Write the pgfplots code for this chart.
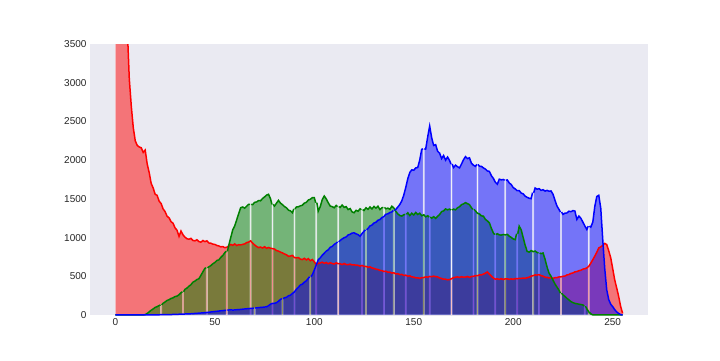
\documentclass[border=0pt]{standalone}
\usepackage{pgfplots}
\pgfplotsset{compat=1.18}
\usepackage{pgfplotstable}
\usepackage{fontspec}
\setmainfont{Liberation Sans}
\definecolor{bgc}{RGB}{234,234,242}
\definecolor{txt}{RGB}{38,38,38}
\definecolor{mplgreen}{RGB}{0,128,0}
\definecolor{mplred}{RGB}{255,0,0}
\definecolor{mplblue}{RGB}{0,0,255}

\pgfplotstableread[row sep=\\]{x y\\
0 9000\\1 7600\\2 6500\\3 5600\\4 4800\\5 4200\\6 3700\\7 3050\\8 2700\\9 2420\\
10 2250\\11 2190\\12 2170\\13 2160\\14 2100\\15 2130\\16 1950\\17 1840\\18 1700\\19 1640\\
20 1560\\21 1545\\22 1470\\23 1440\\24 1370\\25 1335\\26 1275\\27 1255\\28 1205\\29 1185\\
30 1125\\31 1095\\32 1015\\33 1085\\34 1035\\35 1005\\36 985\\37 978\\38 990\\39 962\\
40 958\\41 972\\42 948\\43 940\\44 962\\45 948\\46 958\\47 930\\48 928\\49 915\\
50 912\\51 898\\52 892\\53 880\\54 884\\55 870\\56 875\\57 892\\58 912\\59 900\\
60 918\\61 898\\62 908\\63 905\\64 912\\65 918\\66 935\\67 942\\68 958\\69 928\\
70 905\\71 885\\72 870\\73 878\\74 865\\75 882\\76 862\\77 872\\78 862\\79 858\\
80 852\\81 832\\82 825\\83 812\\84 802\\85 788\\86 778\\87 758\\88 762\\89 770\\
90 742\\91 738\\92 742\\93 722\\94 716\\95 732\\96 712\\97 728\\98 702\\99 716\\
100 688\\101 650\\102 668\\103 672\\104 682\\105 668\\106 678\\107 662\\108 675\\109 665\\
110 658\\111 674\\112 662\\113 662\\114 652\\115 665\\116 652\\117 650\\118 658\\119 646\\
120 648\\121 644\\122 642\\123 632\\124 640\\125 628\\126 628\\127 618\\128 621\\129 608\\
130 602\\131 592\\132 588\\133 576\\134 573\\135 562\\136 566\\137 552\\138 553\\139 542\\
140 545\\141 530\\142 534\\143 522\\144 524\\145 512\\146 514\\147 502\\148 506\\149 492\\
150 490\\151 480\\152 480\\153 474\\154 482\\155 484\\156 492\\157 490\\158 498\\159 495\\
160 502\\161 496\\162 492\\163 478\\164 472\\165 462\\166 462\\167 455\\168 456\\169 470\\
170 482\\171 488\\172 492\\173 486\\174 494\\175 488\\176 490\\177 497\\178 487\\179 497\\
180 500\\181 507\\182 508\\183 517\\184 518\\185 528\\186 540\\187 556\\188 528\\189 502\\
190 478\\191 463\\192 467\\193 460\\194 470\\195 458\\196 467\\197 468\\198 460\\199 467\\
200 461\\201 470\\202 468\\203 474\\204 473\\205 477\\206 474\\207 482\\208 488\\209 502\\
210 508\\211 517\\212 516\\213 522\\214 508\\215 502\\216 488\\217 487\\218 478\\219 480\\
220 474\\221 482\\222 483\\223 492\\224 493\\225 500\\226 503\\227 517\\228 523\\229 537\\
230 543\\231 557\\232 561\\233 572\\234 578\\235 592\\236 598\\237 608\\238 630\\239 670\\
240 714\\241 760\\242 810\\243 866\\244 880\\245 900\\246 925\\247 910\\248 830\\249 740\\
250 600\\251 455\\252 350\\253 240\\254 110\\255 20\\
}\tblR

\pgfplotstableread[row sep=\\]{x y\\
0 1\\1 1\\2 1\\3 1\\4 1\\5 1\\6 1\\7 1\\8 1\\9 1\\10 1\\11 1\\12 1\\13 1\\14 1\\
15 5\\16 20\\17 40\\18 62\\19 78\\20 98\\21 108\\22 122\\
22.7 130\\22.7 0\\23.3 0\\23.3 130\\
24 152\\25 168\\26 188\\27 198\\28 214\\29 222\\30 238\\31 244\\32 262\\33 288\\
33.7 300\\33.7 0\\34.3 0\\34.3 300\\
35 332\\36 348\\37 372\\38 392\\39 424\\40 438\\41 458\\42 468\\43 512\\44 558\\45 602\\
45.7 610\\45.7 0\\46.3 0\\46.3 610\\
47 622\\48 638\\49 662\\50 678\\51 704\\52 712\\53 744\\54 768\\55 804\\
55.7 822\\55.7 0\\56.3 0\\56.3 822\\
57 900\\58 1000\\59 1100\\60 1150\\61 1230\\62 1310\\63 1386\\64 1395\\65 1380\\66 1405\\67 1430\\
67.7 1429\\67.7 0\\68.3 0\\68.3 1429\\
69 1425\\70 1455\\71 1460\\72 1478\\73 1475\\74 1505\\75 1525\\76 1548\\77 1559\\78 1500\\
78.7 1429\\78.7 0\\79.3 0\\79.3 1429\\
80 1407\\81 1445\\82 1480\\83 1445\\84 1425\\85 1400\\86 1385\\87 1355\\88 1345\\89 1321\\
89.7 1370\\89.7 0\\90.3 0\\90.3 1370\\
91 1395\\92 1398\\93 1410\\94 1418\\95 1445\\96 1455\\97 1485\\98 1495\\99 1515\\100 1516\\
100.7 1450\\100.7 0\\101.3 0\\101.3 1450\\
102 1342\\103 1400\\104 1490\\105 1537\\106 1500\\107 1450\\108 1407\\109 1400\\110 1385\\111 1415\\
111.7 1400\\111.7 0\\112.3 0\\112.3 1400\\
113 1390\\114 1420\\115 1390\\116 1400\\117 1362\\118 1375\\119 1332\\120 1321\\121 1352\\122 1340\\123 1372\\
123.7 1360\\123.7 0\\124.3 0\\124.3 1360\\
125 1350\\126 1385\\127 1365\\128 1395\\129 1370\\130 1402\\131 1380\\132 1405\\133 1362\\134 1385\\
134.7 1390\\134.7 0\\135.3 0\\135.3 1390\\
136 1372\\137 1380\\138 1365\\139 1405\\140 1382\\141 1338\\142 1305\\143 1285\\144 1277\\145 1295\\
145.7 1300\\145.7 0\\146.3 0\\146.3 1300\\
147 1320\\148 1285\\149 1315\\150 1292\\151 1325\\152 1298\\153 1315\\154 1282\\155 1295\\156 1268\\157 1282\\
157.7 1265\\157.7 0\\158.3 0\\158.3 1265\\
159 1250\\160 1270\\161 1248\\162 1275\\163 1298\\164 1335\\165 1345\\166 1370\\167 1358\\168 1368\\
168.7 1355\\168.7 0\\169.3 0\\169.3 1355\\
170 1368\\171 1358\\172 1385\\173 1398\\174 1425\\175 1435\\176 1451\\177 1438\\178 1425\\179 1385\\
179.7 1364\\179.7 0\\180.3 0\\180.3 1364\\
181 1345\\182 1315\\183 1305\\184 1280\\185 1277\\186 1235\\187 1215\\188 1191\\189 1120\\190 1060\\
190.7 1039\\190.7 0\\191.3 0\\191.3 1039\\
192 1050\\193 1035\\194 1032\\195 1040\\196 1035\\197 1042\\198 1018\\199 1002\\200 982\\201 974\\
201.7 1050\\201.7 0\\202.3 0\\202.3 1050\\
203 1147\\204 1100\\205 1000\\206 900\\207 822\\208 812\\209 832\\210 818\\211 826\\212 808\\
212.7 800\\212.7 0\\213.3 0\\213.3 800\\
214 792\\215 801\\216 720\\217 620\\218 541\\219 500\\220 450\\221 400\\222 360\\223 320\\
223.7 282\\223.7 0\\224.3 0\\224.3 282\\
225 260\\226 240\\227 215\\228 195\\229 173\\230 160\\231 150\\232 145\\233 140\\234 135\\235 130\\
235.7 115\\235.7 0\\236.3 0\\236.3 115\\
237 80\\238 40\\239 15\\240 1\\241 1\\242 1\\243 1\\244 1\\245 1\\246 1\\247 1\\248 1\\249 1\\
250 1\\251 1\\252 1\\253 1\\254 1\\255 1\\
}\tblG

\pgfplotstableread[row sep=\\]{x y\\
0 2\\1 2\\2 2\\3 2\\4 2\\5 2\\6 2\\7 2\\8 2\\9 2\\10 2\\11 2\\12 2\\13 2\\14 2\\15 2\\16 2\\17 2\\18 2\\19 2\\20 2\\
21 3\\22 3\\23 4\\24 4\\25 5\\26 5\\27 6\\28 6\\29 7\\30 8\\
31 9\\32 10\\33 11\\34 12\\35 13\\36 14\\37 15\\38 16\\39 18\\40 20\\
41 22\\42 24\\43 26\\44 28\\45 30\\46 33\\47 36\\48 39\\49 42\\50 45\\
51 48\\52 51\\53 54\\54 57\\55 60\\
55.7 62\\55.7 0\\56.3 0\\56.3 62\\
57 65\\58 66\\59 64\\60 65\\61 68\\62 70\\63 72\\64 75\\65 78\\66 80\\67 83\\68 85\\69 87\\
69.7 90\\69.7 0\\70.3 0\\70.3 90\\
71 92\\72 95\\73 98\\74 100\\75 103\\76 106\\77 120\\78 140\\79 150\\80 152\\81 158\\82 178\\83 202\\
83.7 210\\83.7 0\\84.3 0\\84.3 210\\
85 222\\86 228\\87 248\\88 256\\89 278\\90 298\\91 332\\92 358\\93 388\\94 398\\95 424\\96 442\\97 474\\
97.7 495\\97.7 0\\98.3 0\\98.3 495\\
99 520\\100 580\\101 650\\102 714\\103 738\\104 772\\105 798\\106 825\\107 842\\108 874\\109 886\\110 912\\111 928\\
111.7 945\\111.7 0\\112.3 0\\112.3 945\\
113 962\\114 982\\115 998\\116 1008\\117 1034\\118 1042\\119 1058\\120 1061\\121 1048\\122 1038\\123 1017\\124 1052\\125 1082\\
125.7 1100\\125.7 0\\126.3 0\\126.3 1100\\
127 1118\\128 1150\\129 1162\\130 1188\\131 1198\\132 1224\\133 1232\\134 1258\\135 1272\\136 1302\\137 1306\\138 1324\\139 1332\\
139.7 1350\\139.7 0\\140.3 0\\140.3 1350\\
141 1364\\142 1395\\143 1428\\144 1475\\145 1550\\146 1650\\147 1760\\148 1840\\149 1875\\150 1870\\151 1900\\152 1905\\153 2000\\154 2140\\
154.7 2145\\154.7 0\\155.3 0\\155.3 2145\\
156 2143\\157 2300\\158 2440\\159 2290\\160 2190\\161 2200\\162 2115\\163 2090\\164 2020\\165 2060\\166 2000\\167 2040\\168 1995\\
168.7 1950\\168.7 0\\169.3 0\\169.3 1950\\
170 1905\\171 1935\\172 1915\\173 1900\\174 1950\\175 2005\\176 2045\\177 2020\\178 2030\\179 1960\\180 1935\\181 1920\\
181.7 1945\\181.7 0\\182.3 0\\182.3 1945\\
183 1922\\184 1920\\185 1900\\186 1885\\187 1860\\188 1855\\189 1800\\190 1765\\191 1715\\192 1689\\193 1754\\194 1745\\195 1750\\
195.7 1740\\195.7 0\\196.3 0\\196.3 1740\\
197 1745\\198 1705\\199 1685\\200 1645\\201 1628\\202 1605\\203 1606\\204 1575\\205 1565\\206 1535\\207 1520\\208 1508\\209 1503\\
209.7 1580\\209.7 0\\210.3 0\\210.3 1580\\
211 1640\\212 1625\\213 1632\\214 1610\\215 1618\\216 1600\\217 1610\\218 1598\\219 1602\\220 1560\\221 1480\\222 1407\\223 1364\\
223.7 1330\\223.7 0\\224.3 0\\224.3 1330\\
225 1299\\226 1315\\227 1318\\228 1340\\229 1335\\230 1348\\231 1342\\232 1234\\233 1277\\234 1250\\235 1200\\236 1150\\237 1104\\
237.7 1147\\237.7 0\\238.3 0\\238.3 1147\\
239 1135\\240 1200\\241 1400\\242 1530\\243 1546\\244 1380\\245 974\\246 600\\247 325\\248 200\\249 140\\
250 108\\251 70\\252 40\\253 20\\254 5\\255 1\\
}\tblB

\begin{document}
\begin{tikzpicture}
\path[use as bounding box] (-90pt,-45pt) rectangle (630pt,315pt);
\begin{axis}[
  at={(0pt,0pt)}, anchor=south west,
  scale only axis, width=558pt, height=271pt,
  xmin=-12.75, xmax=267.75, ymin=0, ymax=3500,
  axis background/.style={fill=bgc},
  axis line style={draw=none},
  major tick length=0pt,
  xtick={0,50,100,150,200,250},
  ytick={0,500,1000,1500,2000,2500,3000,3500},
  ticklabel style={font=\fontsize{10}{12}\selectfont, text=txt},
  /pgf/number format/assume math mode=true,
  /pgf/number format/set thousands separator={},
  scaled y ticks=false,
  no markers,
]
\addplot[draw=white, draw opacity=0.5, line width=0.6pt, fill=mplred, fill opacity=0.5] table[x=x,y=y]{\tblR} \closedcycle;
\addplot[draw=white, draw opacity=0.5, line width=0.6pt, fill=mplgreen, fill opacity=0.5] table[x=x,y=y]{\tblG} \closedcycle;
\addplot[draw=white, draw opacity=0.5, line width=0.6pt, fill=mplblue, fill opacity=0.5] table[x=x,y=y]{\tblB} \closedcycle;
\addplot[mplred, line width=1.5pt, restrict y to domain=0.5:100000] table[x=x,y=y]{\tblR};
\addplot[mplgreen, line width=1.5pt, restrict y to domain=0.5:100000] table[x=x,y=y]{\tblG};
\addplot[mplblue, line width=1.5pt, restrict y to domain=0.5:100000] table[x=x,y=y]{\tblB};
\end{axis}
\end{tikzpicture}
\end{document}
